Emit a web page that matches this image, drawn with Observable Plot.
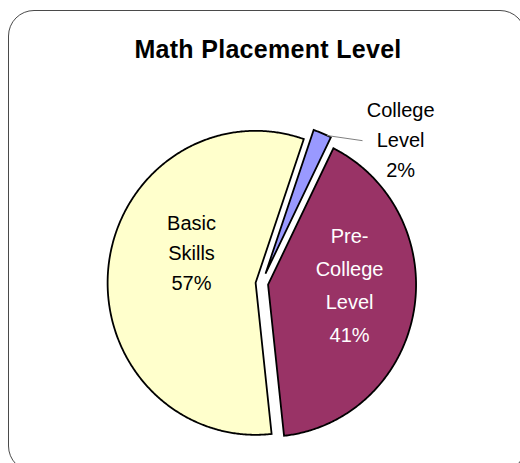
<!DOCTYPE html>
<html><head><meta charset="utf-8">
<script src="https://cdn.jsdelivr.net/npm/d3@7"></script>
<script src="https://cdn.jsdelivr.net/npm/@observablehq/plot@0.6"></script>
<style>
html,body{margin:0;padding:0;background:#fff;}
#wrap{position:relative;width:520px;height:463px;overflow:hidden;font-family:"Liberation Sans",Arial,sans-serif;}
#border{position:absolute;left:8px;top:10px;width:518px;height:462px;border:1.3px solid #4a4a4a;border-radius:26px;box-sizing:border-box;}
#chart{position:absolute;left:0;top:0;}
</style></head><body>
<div id="wrap"><div id="border"></div><div id="chart"></div></div>
<script>
// ---- data ----
const title = "Math Placement Level";
const categories = ["College Level", "Pre-College Level", "Basic Skills"];
const values = [2, 41, 57];
const labelTexts = ["College\nLevel\n2%", "Pre-\nCollege\nLevel\n41%", "Basic\nSkills\n57%"];

// ---- styling / layout ----
const colors = ["#9999FF", "#993366", "#FFFFCC"];
const textColors = ["#000000", "#FFFFFF", "#000000"];
const explode = [0.07, 0.045, 0.04];
const labelPos = [[0.94, 0.96], [0.595, 0.007], [-0.473, 0.217]];
const W = 520, H = 463, cx = 261, cy = 283, rx = 148, ry = 152;
const startDeg = 19;

const pie = d3.pie().sort(null).value(d => d)
  .startAngle(startDeg * Math.PI / 180)
  .endAngle(startDeg * Math.PI / 180 + 2 * Math.PI)(values);

const wedgePts = [];
pie.forEach((p, i) => {
  const mid = (p.startAngle + p.endAngle) / 2;
  const ox = explode[i] * Math.sin(mid), oy = explode[i] * Math.cos(mid);
  const cat = categories[i];
  wedgePts.push({cat, x: ox, y: oy});
  const n = Math.max(4, Math.ceil((p.endAngle - p.startAngle) / (Math.PI / 360)));
  for (let k = 0; k <= n; k++) {
    const a = p.startAngle + (p.endAngle - p.startAngle) * k / n;
    wedgePts.push({cat, x: ox + Math.sin(a), y: oy + Math.cos(a)});
  }
});

// leader line for the small slice
const c0 = pie[0];
const la = c0.endAngle - 1.5 * Math.PI / 180;
const cm = (c0.startAngle + c0.endAngle) / 2;
const leader = [
  {x: explode[0] * Math.sin(cm) + 1.0 * Math.sin(la), y: explode[0] * Math.cos(cm) + 1.0 * Math.cos(la)},
  {x: labelPos[0][0] - 0.26, y: labelPos[0][1] - 0.02}
];

const labels = categories.map((c, i) => ({cat: c, text: labelTexts[i], x: labelPos[i][0], y: labelPos[i][1], color: textColors[i]}));
const font = "Liberation Sans, Arial, sans-serif";

const chart = Plot.plot({
  width: W, height: H,
  marginLeft: 0, marginRight: 0, marginTop: 0, marginBottom: 0,
  style: {background: "transparent", overflow: "visible"},
  x: {domain: [-cx / rx, (W - cx) / rx], range: [0, W], axis: null},
  y: {domain: [-(H - cy) / ry, cy / ry], range: [H, 0], axis: null},
  color: {domain: categories, range: colors},
  marks: [
    Plot.line(wedgePts, {x: "x", y: "y", z: "cat", fill: "cat", stroke: "#000", strokeWidth: 1.8,
      curve: "linear-closed", strokeLinejoin: "miter", strokeMiterlimit: 10}),
    Plot.line(leader, {x: "x", y: "y", stroke: "#808080", strokeWidth: 1}),
    Plot.text([labels[0]], {x: "x", y: "y", text: "text", fill: "color", fontSize: 20, fontFamily: font, lineHeight: 1.5, lineAnchor: "middle"}),
    Plot.text([labels[1]], {x: "x", y: "y", text: "text", fill: "color", fontSize: 20, fontFamily: font, lineHeight: 1.65, lineAnchor: "middle"}),
    Plot.text([labels[2]], {x: "x", y: "y", text: "text", fill: "color", fontSize: 20, fontFamily: font, lineHeight: 1.5, lineAnchor: "middle"}),
    Plot.text([title], {text: d => d, frameAnchor: "top", dx: 7.5, dy: 49, fontSize: 25, fontWeight: "bold", fontFamily: font, fill: "#000", lineAnchor: "middle", style: {letterSpacing: "0.3px"}})
  ]
});
chart.querySelectorAll("text").forEach(t => { if (t.textContent === title) t.style.letterSpacing = "0.3px"; });
document.getElementById("chart").appendChild(chart);
</script>
</body></html>
